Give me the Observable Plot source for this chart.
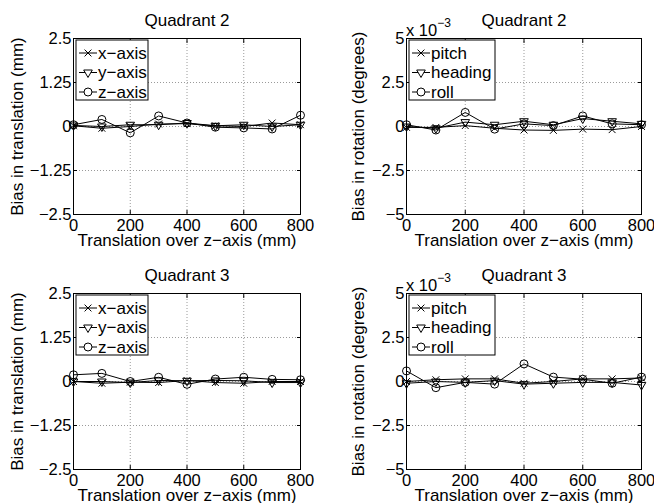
<!DOCTYPE html>
<html><head><meta charset="utf-8">
<script src="https://cdn.jsdelivr.net/npm/d3@7"></script>
<script src="https://cdn.jsdelivr.net/npm/@observablehq/plot@0.6"></script>
<style>
body{margin:0;background:#fff}
#chart{position:relative;width:654px;height:503px;overflow:hidden;background:#fff}
.panel{position:absolute}
</style>
</head><body><div id="chart"></div>
<script>
// ---- data ----
const positions = [0,100,200,300,400,500,600,700,800];
const xTicks = [0,200,400,600,800];
const transTicks = [-2.5,-1.25,0,1.25,2.5];
const rotTicks = [-5,-2.5,0,2.5,5];
const transLabels = ["x\u2212axis","y\u2212axis","z\u2212axis"];
const rotLabels = ["pitch","heading","roll"];
const titles = ["Quadrant 2","Quadrant 2","Quadrant 3","Quadrant 3"];

// Quadrant 2, translation bias (mm)
const q2_x = [0.02,-0.05,0.0,0.07,0.08,0.02,0.0,0.1,0.05];
const q2_y = [0.03,0.0,0.05,0.05,0.1,0.02,0.05,0.0,0.05];
const q2_z = [0.05,0.2,-0.18,0.3,0.1,-0.02,-0.04,-0.07,0.32];
// Quadrant 2, rotation bias (x 1e-3 degrees)
const q2_pitch = [-0.05,-0.05,0.05,-0.1,-0.2,-0.22,-0.15,-0.18,0.0];
const q2_heading = [0.0,-0.1,0.25,0.1,0.3,0.1,0.45,0.3,0.15];
const q2_roll = [0.1,-0.2,0.8,-0.15,0.15,0.05,0.6,0.15,0.1];
// Quadrant 3, translation bias (mm)
const q3_x = [0.0,-0.05,-0.02,-0.03,0.03,-0.03,-0.05,0.0,0.0];
const q3_y = [0.0,0.0,-0.03,0.03,0.02,0.03,0.02,-0.03,-0.03];
const q3_z = [0.19,0.23,0.0,0.12,-0.08,0.07,0.12,0.06,0.05];
// Quadrant 3, rotation bias (x 1e-3 degrees)
const q3_pitch = [0.0,0.1,0.15,0.15,-0.1,0.0,0.15,0.15,0.2];
const q3_heading = [-0.1,0.0,-0.05,0.05,-0.15,-0.1,-0.05,-0.05,-0.2];
const q3_roll = [0.6,-0.35,-0.05,-0.15,1.0,0.25,0.13,-0.1,0.25];

// ---- symbols ----
const sqrt3 = Math.sqrt(3);
const triangleDown = {
  draw(context, size) {
    const y = -Math.sqrt(size / (sqrt3 * 3));
    context.moveTo(0, -y * 2);
    context.lineTo(-sqrt3 * y, y);
    context.lineTo(sqrt3 * y, y);
    context.closePath();
  }
};
const symbols = [d3.symbolTimes, triangleDown, d3.symbolCircle];
const symR = [3.2, 3.2, 4];

const FONT = "'Liberation Sans', Arial, Helvetica, sans-serif";
const fmt = d => (d < 0 ? "\u2212" : "") + String(Math.abs(d));

function makePanel(cfg) {
  const table = [];
  cfg.series.forEach((vals, si) => vals.forEach((v, i) => table.push({s: si, x: positions[i], y: v})));
  const marks = [
    Plot.gridX(xTicks, {stroke: "#9a9a9a", strokeOpacity: 1, strokeDasharray: "1,2"}),
    Plot.gridY(cfg.yTicks, {stroke: "#9a9a9a", strokeOpacity: 1, strokeDasharray: "1,2"}),
    Plot.axisX(xTicks, {tickSize: -4, tickPadding: 9, label: null, fontSize: 16.5}),
    Plot.axisY(cfg.yTicks, {tickSize: -4, tickPadding: 6, label: null, tickFormat: fmt, fontSize: 16.5}),
    Plot.axisX(xTicks, {anchor: "top", tickSize: -4, text: null, label: null}),
    Plot.axisY(cfg.yTicks, {anchor: "right", tickSize: -4, text: null, label: null}),
  ];
  cfg.series.forEach((vals, si) => {
    const d = table.filter(r => r.s === si);
    marks.push(Plot.line(d, {x: "x", y: "y", stroke: "black", strokeWidth: 1}));
    marks.push(Plot.dot(d, {x: "x", y: "y", symbol: () => symbols[si], r: symR[si], stroke: "black", fill: "none", strokeWidth: 1}));
  });
  marks.push(Plot.frame({stroke: "black", strokeWidth: 1}));
  marks.push(Plot.text([cfg.title], {frameAnchor: "top", dy: -18, fontSize: 17, lineAnchor: "middle", textAnchor: "middle", fill: "black"}));
  marks.push(Plot.text([cfg.xlabel], {frameAnchor: "bottom", dy: 26, fontSize: 17, lineAnchor: "middle", textAnchor: "middle", fill: "black"}));
  marks.push(Plot.text([cfg.ylabel], {frameAnchor: "left", dx: cfg.ylabelDx, rotate: -90, fontSize: 17, lineAnchor: "middle", textAnchor: "middle", fill: "black"}));
  const svg = Plot.plot({
    width: 327, height: 251,
    marginLeft: cfg.ml, marginRight: cfg.mr, marginTop: 38, marginBottom: 37,
    style: {fontFamily: FONT, fontSize: "16px", color: "black", background: "white", overflow: "visible"},
    x: {domain: [0, 800]},
    y: {domain: [cfg.yTicks[0], cfg.yTicks[cfg.yTicks.length - 1]]},
    marks
  });
  // legend (inside plot, top-left)
  const g = d3.select(svg).append("g")
    .attr("transform", `translate(${cfg.ml + 3},${38 + 2})`)
    .style("font-family", FONT).style("font-size", "17px").attr("text-anchor", "start");
  g.append("rect").attr("width", cfg.legendW).attr("height", 60)
    .attr("fill", "white").attr("stroke", "black").attr("stroke-width", 1);
  cfg.labels.forEach((lab, i) => {
    const yy = 13 + i * 19.5;
    g.append("line").attr("x1", 3).attr("x2", 21).attr("y1", yy).attr("y2", yy).attr("stroke", "black");
    g.append("path").attr("transform", `translate(12,${yy})`)
      .attr("d", d3.symbol(symbols[i], Math.PI * symR[i] * symR[i])())
      .attr("fill", "white").attr("stroke", "black");
    g.append("text").attr("x", 22).attr("y", yy).attr("dy", "0.35em").attr("text-anchor", "start").attr("fill", "black").text(lab);
  });
  if (cfg.expo) {
    const t = d3.select(svg).append("text")
      .attr("x", cfg.ml).attr("y", 36).attr("text-anchor", "start")
      .style("font-family", FONT).style("font-size", "16.5px").attr("fill", "black");
    t.append("tspan").text("x 10");
    t.append("tspan").attr("dy", -9).style("font-size", "12px").text("\u22123");
  }
  return svg;
}

const chart = document.getElementById("chart");
const configs = [
  {left: 0, top: 0, ml: 73, mr: 27, title: titles[0], yTicks: transTicks, series: [q2_x, q2_y, q2_z], labels: transLabels, legendW: 72, ylabel: "Bias in translation (mm)", ylabelDx: -56},
  {left: 327, top: 0, ml: 79, mr: 13, title: titles[1], yTicks: rotTicks, series: [q2_pitch, q2_heading, q2_roll], labels: rotLabels, legendW: 86, ylabel: "Bias in rotation (degrees)", ylabelDx: -48, expo: true},
  {left: 0, top: 255, ml: 73, mr: 27, title: titles[2], yTicks: transTicks, series: [q3_x, q3_y, q3_z], labels: transLabels, legendW: 72, ylabel: "Bias in translation (mm)", ylabelDx: -56},
  {left: 327, top: 255, ml: 79, mr: 13, title: titles[3], yTicks: rotTicks, series: [q3_pitch, q3_heading, q3_roll], labels: rotLabels, legendW: 86, ylabel: "Bias in rotation (degrees)", ylabelDx: -48, expo: true},
];
configs.forEach(cfg => {
  cfg.xlabel = "Translation over z\u2212axis (mm)";
  const div = document.createElement("div");
  div.className = "panel";
  div.style.left = cfg.left + "px";
  div.style.top = cfg.top + "px";
  div.appendChild(makePanel(cfg));
  chart.appendChild(div);
});
</script>
</body></html>
